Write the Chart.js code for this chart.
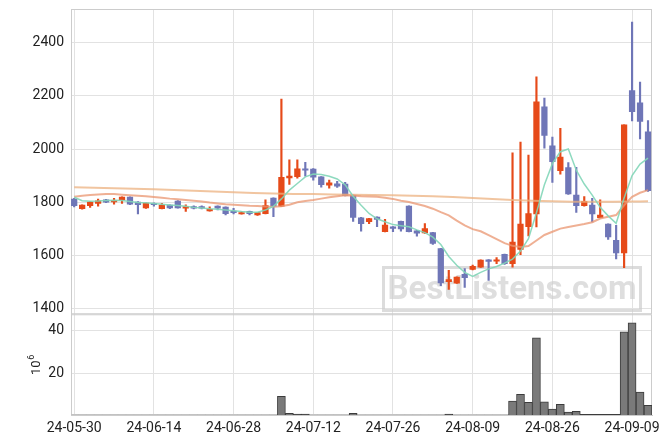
<!DOCTYPE html>
<html>
<head>
<meta charset="utf-8">
<script src="https://cdn.jsdelivr.net/npm/chart.js@4.4.1/dist/chart.umd.min.js"></script>
<style>
  html, body { margin: 0; padding: 0; background: #fff; }
  #wrap { width: 671px; height: 444px; }
</style>
</head>
<body>
<div id="wrap"><canvas id="chart" width="671" height="444"></canvas></div>
<script>
// trading days, one per bar
const dates = [
  '24-05-30','24-05-31','24-06-03','24-06-04','24-06-05','24-06-07','24-06-10','24-06-11','24-06-12','24-06-13',
  '24-06-14','24-06-17','24-06-18','24-06-19','24-06-20','24-06-21','24-06-24','24-06-25','24-06-26','24-06-27',
  '24-06-28','24-07-01','24-07-02','24-07-03','24-07-04','24-07-05','24-07-08','24-07-09','24-07-10','24-07-11',
  '24-07-12','24-07-15','24-07-16','24-07-17','24-07-18','24-07-19','24-07-22','24-07-23','24-07-24','24-07-25',
  '24-07-26','24-07-29','24-07-30','24-07-31','24-08-01','24-08-02','24-08-05','24-08-06','24-08-07','24-08-08',
  '24-08-09','24-08-12','24-08-13','24-08-14','24-08-16','24-08-19','24-08-20','24-08-21','24-08-22','24-08-23',
  '24-08-26','24-08-27','24-08-28','24-08-29','24-08-30','24-09-02','24-09-03','24-09-04','24-09-05','24-09-06',
  '24-09-09','24-09-10','24-09-11'
];

const openP = [
  1811,1775,1786,1795,1808,1801,1808,1819,1800,1778,
  1793,1775,1789,1804,1777,1781,1781,1767,1785,1781,
  1763,1755,1765,1752,1756,1815,1785,1891,1896,1925,
  1924,1895,1864,1869,1868,1825,1741,1726,1743,1688,
  1707,1727,1785,1692,1684,1685,1625,1500,1494,1528,
  1546,1555,1582,1577,1603,1568,1621,1707,1755,2159,
  2012,1918,1930,1826,1786,1789,1741,1717,1656,1608,
  2220,2174,2065
];
const highP = [
  1814,1790,1802,1811,1810,1814,1820,1820,1802,1797,
  1797,1795,1790,1806,1790,1786,1786,1782,1786,1782,
  1776,1764,1766,1761,1808,1816,2188,1959,1959,1950,
  1926,1896,1883,1878,1874,1826,1742,1739,1744,1735,
  1708,1728,1786,1693,1719,1686,1626,1543,1518,1549,
  1562,1582,1583,1591,1604,1986,2026,1977,2272,2192,
  2045,2078,1949,1931,1821,1814,1808,1718,1712,2091,
  2479,2252,2107
];
const lowP = [
  1782,1773,1780,1785,1798,1792,1795,1790,1755,1776,
  1785,1774,1775,1777,1765,1774,1774,1766,1770,1752,
  1755,1754,1752,1750,1755,1745,1784,1867,1890,1898,
  1883,1856,1852,1855,1823,1727,1690,1719,1707,1687,
  1688,1690,1687,1671,1682,1640,1485,1471,1493,1478,
  1544,1554,1505,1568,1565,1555,1602,1672,1706,2003,
  1874,1905,1829,1761,1785,1725,1740,1659,1586,1553,
  2106,2038,1840
];
const closeP = [
  1786,1789,1800,1805,1800,1805,1819,1792,1790,1796,
  1790,1789,1778,1778,1782,1777,1777,1772,1777,1756,
  1760,1760,1756,1760,1787,1785,1893,1898,1925,1920,
  1894,1866,1873,1860,1824,1742,1719,1738,1735,1713,
  1701,1699,1688,1683,1700,1644,1495,1508,1517,1515,
  1558,1581,1576,1582,1568,1649,1717,1757,2178,2051,
  1952,1970,1831,1786,1803,1755,1751,1669,1608,2091,
  2141,2104,1843
];

// volume, millions of shares
const volume = [
  0.6,0.6,0.6,0.6,0.6,0.6,0.6,0.6,0.6,0.6,
  0.6,0.6,0.6,0.6,0.6,0.6,0.6,0.6,0.6,0.6,
  0.6,0.6,0.6,0.6,0.6,0.6,9.3,1.4,1.0,1.0,
  0.6,0.6,0.6,0.6,0.6,1.4,0.6,0.6,0.6,0.6,
  0.6,0.6,0.6,0.6,0.6,0.6,0.6,1.0,0.6,0.6,
  0.6,0.6,0.6,0.6,0.6,7.1,10.2,6.5,36.4,6.7,
  3.4,5.6,1.9,2.3,0.95,0.95,0.95,0.95,0.95,39.2,
  43.3,11.2,5.1
];

// moving average lines
const maShort = [
  1818,1805,1803,1804,1806,1807,1806,1802,1798,1797,
  1795,1792,1789,1787,1784,1780,1778,1775,1773,1770,
  1767,1764,1762,1762,1770,1784,1812,1845,1870,1895,
  1906,1904,1897,1887,1865,1822,1788,1757,1737,1726,
  1715,1711,1707,1695,1685,1668,1640,1595,1562,1535,
  1520,1535,1548,1557,1570,1585,1615,1662,1760,1865,
  1945,1990,2000,1920,1868,1826,1780,1748,1720,1815,
  1900,1943,1966
];
const maMid = [
  1820,1824,1827,1829,1830,1830,1828,1826,1824,1822,
  1819,1816,1813,1811,1808,1805,1802,1798,1795,1792,
  1790,1788,1786,1785,1783,1782,1784,1790,1799,1804,
  1808,1813,1818,1822,1826,1825,1822,1821,1820,1816,
  1812,1805,1800,1793,1785,1775,1762,1750,1730,1712,
  1698,1690,1675,1660,1645,1635,1631,1634,1655,1676,
  1688,1700,1706,1712,1717,1724,1738,1745,1751,1788,
  1820,1835,1845
];
const maLongIdx = [0, 5, 10, 15, 20, 25, 30, 35, 40, 45, 50, 55, 60, 65, 70, 72];
const maLong = [1856, 1852, 1848, 1843, 1837, 1832, 1830, 1828, 1826, 1822, 1815, 1808, 1803, 1801, 1802, 1803];

const priceTicks = [1400, 1600, 1800, 2000, 2200, 2400];
const volTicks = [20, 40];
const dateTicks = [0, 10, 20, 30, 40, 50, 60, 70];

const UP = '#e64a19';
const DOWN = '#6f76b7';
const candleColor = closeP.map((c, i) => (c >= openP[i] ? UP : DOWN));
const GRID = '#e2e2e2';
const EDGE = '#cccccc';
const tickFont = { family: 'Roboto', size: 14 };

const panels = {
  id: 'panels',
  beforeDatasetsDraw(chart) {
    const { ctx, chartArea } = chart;
    ctx.save();
    // watermark
    ctx.strokeStyle = 'rgba(205,205,205,0.7)';
    ctx.lineWidth = 3;
    ctx.strokeRect(383.5, 267.5, 257, 43);
    ctx.fillStyle = 'rgba(205,205,205,0.65)';
    ctx.font = 'bold 34px Roboto';
    ctx.textAlign = 'center';
    ctx.textBaseline = 'middle';
    const txt = 'BestListens.com';
    const w = ctx.measureText(txt).width;
    ctx.translate(512, 290);
    ctx.scale(249 / w, 1);
    ctx.fillText(txt, 0, 0);
    ctx.restore();
    // panel frames
    ctx.save();
    ctx.strokeStyle = EDGE;
    ctx.lineWidth = 1;
    ['y', 'yv'].forEach(id => {
      const s = chart.scales[id];
      ctx.strokeRect(chartArea.left + 0.5, s.top + 0.5, chartArea.right - chartArea.left - 1, s.bottom - s.top - 1);
    });
    ctx.restore();
  },
  afterDraw(chart) {
    const { ctx } = chart;
    const s = chart.scales.yv;
    ctx.save();
    ctx.translate(40, (s.top + s.bottom) / 2);
    ctx.rotate(-Math.PI / 2);
    ctx.fillStyle = '#222';
    ctx.textBaseline = 'alphabetic';
    ctx.font = '13px Roboto';
    const w10 = ctx.measureText('10').width;
    ctx.fillText('10', -(w10 + 6) / 2, 0);
    ctx.font = '9px Roboto';
    ctx.fillText('6', -(w10 + 6) / 2 + w10 + 0.5, -6);
    ctx.restore();
  }
};

const fitY = s => { s.width = 71; s.paddingTop = 0; s.paddingBottom = 0; };

new Chart(document.getElementById('chart'), {
  type: 'bar',
  data: {
    datasets: [
      {
        type: 'line', label: 'ma-short', yAxisID: 'y', order: 0,
        data: maShort.map((v, i) => ({ x: i, y: v })),
        borderColor: 'rgba(130,214,184,0.9)', borderWidth: 1.5, pointRadius: 0, tension: 0
      },
      {
        type: 'line', label: 'ma-mid', yAxisID: 'y', order: 0,
        data: maMid.map((v, i) => ({ x: i, y: v })),
        borderColor: 'rgba(234,150,112,0.75)', borderWidth: 2, pointRadius: 0, tension: 0
      },
      {
        type: 'line', label: 'ma-long', yAxisID: 'y', order: 0,
        data: maLong.map((v, i) => ({ x: maLongIdx[i], y: v })),
        borderColor: 'rgba(236,178,128,0.75)', borderWidth: 2, pointRadius: 0, tension: 0.3
      },
      {
        label: 'wick', yAxisID: 'y', order: 2, grouped: false,
        data: highP.map((h, i) => ({ x: i, y: [lowP[i], h] })),
        backgroundColor: candleColor, barThickness: 1.5
      },
      {
        label: 'body', yAxisID: 'y', order: 1, grouped: false,
        data: openP.map((o, i) => ({ x: i, y: [o, closeP[i]] })),
        backgroundColor: candleColor, barThickness: 5.6, minBarLength: 1.5
      },
      {
        label: 'volume', yAxisID: 'yv', order: 3, grouped: false,
        data: volume.map((v, i) => ({ x: i, y: v })),
        backgroundColor: '#7a7a7a', borderColor: '#3c3c3c', borderWidth: 1, barThickness: 8
      }
    ]
  },
  options: {
    responsive: false,
    devicePixelRatio: 1,
    animation: false,
    layout: { padding: { top: 9, right: 19, left: 0, bottom: 0 } },
    plugins: { legend: { display: false }, tooltip: { enabled: false } },
    scales: {
      x: {
        type: 'linear', min: -0.4, max: 72.5, offset: false,
        afterBuildTicks: s => { s.ticks = dateTicks.map(v => ({ value: v })); },
        afterFit: s => { s.height = 29; s.paddingLeft = 0; s.paddingRight = 0; },
        ticks: { callback: v => dates[v], font: tickFont, color: '#222', padding: 5, maxRotation: 0, autoSkip: false },
        grid: { color: GRID, drawTicks: false, offset: false },
        border: { color: EDGE }
      },
      // the first axis of a stack is laid out at the bottom
      yv: {
        type: 'linear', position: 'left', stack: 'panes', stackWeight: 1,
        min: 0.6, max: 47.3,
        afterBuildTicks: s => { s.ticks = volTicks.map(v => ({ value: v })); },
        afterFit: fitY,
        ticks: { font: tickFont, color: '#222', padding: 7, callback: v => String(v) },
        grid: { color: GRID, drawTicks: false },
        border: { color: EDGE }
      },
      y: {
        type: 'linear', position: 'left', stack: 'panes', stackWeight: 3.03,
        min: 1377, max: 2528,
        afterBuildTicks: s => { s.ticks = priceTicks.map(v => ({ value: v })); },
        afterFit: fitY,
        ticks: { font: tickFont, color: '#222', padding: 7, callback: v => String(v) },
        grid: { color: GRID, drawTicks: false },
        border: { color: EDGE }
      }
    }
  },
  plugins: [panels]
});
</script>
</body>
</html>
